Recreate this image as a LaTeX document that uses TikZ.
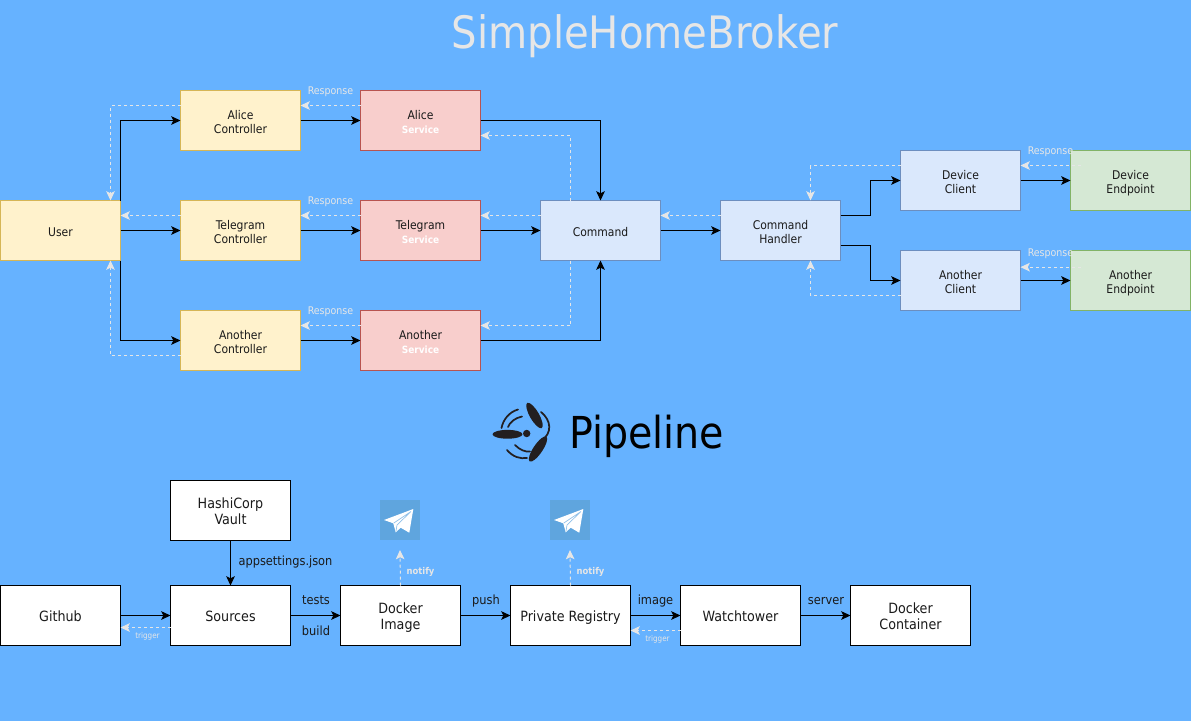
\documentclass[tikz,border=0pt]{standalone}
\usepackage{fontspec}
\setmainfont{DejaVu Sans Condensed}
\usetikzlibrary{arrows.meta,calc}
\definecolor{bgblue}{HTML}{66B2FF}
\definecolor{lightline}{HTML}{E6E6E6}
\definecolor{iconblue}{HTML}{5FA5DE}
\definecolor{logoink}{HTML}{231F20}
\definecolor{inktext}{HTML}{1A1A1A}
\definecolor{yfill}{HTML}{FFF2CC}\definecolor{ydraw}{HTML}{D6B656}
\definecolor{rfill}{HTML}{F8CECC}\definecolor{rdraw}{HTML}{B85450}
\definecolor{bfill}{HTML}{DAE8FC}\definecolor{bdraw}{HTML}{6C8EBF}
\definecolor{gfill}{HTML}{D5E8D4}\definecolor{gdraw}{HTML}{82B366}
\tikzset{
  x=0.75pt,y=-0.75pt,
  basebox/.style={draw,rectangle,line width=0.75pt,minimum width=90pt,minimum height=45pt,inner sep=0pt,outer sep=0pt,anchor=north west,align=center,text=inktext,font=\fontsize{9}{10.5}\selectfont},
  yellowbox/.style={basebox,fill=yfill,draw=ydraw},
  redbox/.style={basebox,fill=rfill,draw=rdraw},
  bluebox/.style={basebox,fill=bfill,draw=bdraw},
  greenbox/.style={basebox,fill=gfill,draw=gdraw},
  whitebox/.style={basebox,fill=white,draw=black,font=\fontsize{10.6}{12}\selectfont},
  flow/.style={draw=black,line width=0.8pt,-{Stealth[length=7pt,width=6.5pt,inset=1.6pt]}},
  back/.style={draw=lightline,line width=0.75pt,dash pattern=on 2.25pt off 2.25pt,-{Stealth[length=7pt,width=6.5pt,inset=1.6pt]}},
  resplabel/.style={text=lightline,inner sep=0pt,font=\fontsize{7.9}{8}\selectfont},
  triglabel/.style={text=lightline,inner sep=0pt,font=\fontsize{6}{6}\selectfont},
  notifylabel/.style={text=lightline,inner sep=0pt,font=\fontsize{7}{8}\selectfont\bfseries},
  edgelabel/.style={text=inktext,inner sep=0pt,font=\fontsize{9.5}{11}\selectfont},
  iconbox/.style={fill=iconblue,minimum width=30pt,minimum height=30pt,inner sep=0pt,outer sep=0pt,anchor=north west},
  blade/.style={fill=logoink,draw=none},
  swirl/.style={draw=logoink,line cap=round,line width=1.3pt},
}
% struts that fix the position of the text block in a box
\newcommand{\ta}{\rule{0pt}{11.5pt}}
\newcommand{\tb}{\rule[-2.5pt]{0pt}{0pt}}
\newcommand{\wa}{\rule{0pt}{12.5pt}}
\newcommand{\wb}{\rule[-3.9pt]{0pt}{0pt}}
\newcommand{\svcline}{\\[0.6pt]{\color{white}\bfseries\fontsize{7.5}{10.5}\selectfont Service}\tb}
\newcommand{\tgplane}[1]{%
  \begin{scope}[shift={(#1.north west)}]
    \fill[white] (33.3,9) -- (29.3,32.7) -- (20.7,27.7) -- (15.7,32.3) -- (13.3,23.3) -- (4,20) -- cycle;
    \draw[iconblue!70!white,line width=0.5pt] (31,11.5) -- (13.8,23) (31,11.5) -- (17,25) -- (16,31);
  \end{scope}}
\begin{document}
\begin{tikzpicture}
\useasboundingbox[fill=bgblue] (0,0) rectangle (1191,721);

\node[inner sep=0pt,text=lightline,font=\fontsize{33.5}{36}\selectfont] (title) at (645,36) {SimpleHomeBroker};

% top row
\node[yellowbox] (user) at (0.5,200.5) {\ta User\tb};
\node[yellowbox] (alicectl) at (180.5,90.5) {\ta Alice\\Controller\tb};
\node[yellowbox] (telctl) at (180.5,200.5) {\ta Telegram\\Controller\tb};
\node[yellowbox] (anoctl) at (180.5,310.5) {\ta Another\\Controller\tb};
\node[redbox] (alicesvc) at (360.5,90.5) {\ta Alice\svcline};
\node[redbox] (telsvc) at (360.5,200.5) {\ta Telegram\svcline};
\node[redbox] (anosvc) at (360.5,310.5) {\ta Another\svcline};
\node[bluebox] (command) at (540.5,200.5) {\ta Command\tb};
\node[bluebox] (handler) at (720.5,200.5) {\ta Command\\Handler\tb};
\node[bluebox] (devcli) at (900.5,150.5) {\ta Device\\Client\tb};
\node[bluebox] (anocli) at (900.5,250.5) {\ta Another\\Client\tb};
\node[greenbox] (devend) at (1070.5,150.5) {\ta Device\\Endpoint\tb};
\node[greenbox] (anoend) at (1070.5,250.5) {\ta Another\\Endpoint\tb};

% top flows
\draw[flow] (user.north east) |- (alicectl.west);
\draw[flow] (user.east) -- (telctl.west);
\draw[flow] (user.south east) |- (anoctl.west);
\draw[flow] (alicectl.east) -- (alicesvc.west);
\draw[flow] (telctl.east) -- (telsvc.west);
\draw[flow] (anoctl.east) -- (anosvc.west);
\draw[flow] (alicesvc.east) -| (command.north);
\draw[flow] (telsvc.east) -- (command.west);
\draw[flow] (anosvc.east) -| (command.south);
\draw[flow] (command.east) -- (handler.west);
\draw[flow] ([yshift=11.25pt]handler.east) -- ++(30,0) |- (devcli.west);
\draw[flow] ([yshift=-11.25pt]handler.east) -- ++(30,0) |- (anocli.west);
\draw[flow] (devcli.east) -- (devend.west);
\draw[flow] (anocli.east) -- (anoend.west);

% top responses
\draw[back] ([yshift=11.25pt]alicectl.west) -| ([xshift=-7.5pt]user.north east);
\draw[back] ([yshift=11.25pt]alicesvc.west) -- ([yshift=11.25pt]alicectl.east);
\draw[back] ([yshift=11.25pt]telsvc.west) -- ([yshift=11.25pt]telctl.east);
\draw[back] ([yshift=11.25pt]telctl.west) -- ([yshift=11.25pt]user.east);
\draw[back] ([yshift=11.25pt]anosvc.west) -- ([yshift=11.25pt]anoctl.east);
\draw[back] ([yshift=-11.25pt]anoctl.west) -| ([xshift=-7.5pt]user.south east);
\draw[back] ([xshift=22.5pt]command.north west) |- ([yshift=-11.25pt]alicesvc.east);
\draw[back] ([yshift=11.25pt]command.west) -- ([yshift=11.25pt]telsvc.east);
\draw[back] ([xshift=22.5pt]command.south west) |- ([yshift=11.25pt]anosvc.east);
\draw[back] ([yshift=11.25pt]handler.west) -- ([yshift=11.25pt]command.east);
\draw[back] ([yshift=11.25pt]devcli.west) -| ([xshift=-22.5pt]handler.north east);
\draw[back] ([yshift=-11.25pt]anocli.west) -| ([xshift=-22.5pt]handler.south east);
\draw[back] ([xshift=7.5pt,yshift=11.25pt]devend.west) -- ([yshift=11.25pt]devcli.east);
\draw[back] ([xshift=7.5pt,yshift=10pt]anoend.west) -- ([yshift=10pt]anocli.east);

\node[resplabel] (resp1) at (330.5,92) {Response};
\node[resplabel] (resp2) at (330.5,202) {Response};
\node[resplabel] (resp3) at (330.5,312) {Response};
\node[resplabel] (resp4) at (1050.5,152) {Response};
\node[resplabel] (resp5) at (1050.5,254) {Response};

% logo
\node[inner sep=0pt,text=black,font=\fontsize{33}{36}\selectfont,anchor=west] (pipeline) at (569,436) {Pipeline};
\fill[logoink] (526.7,433.5) circle[radius=3.7];
\fill[blade] (507.5,434.3) ellipse[x radius=15,y radius=4.4];
\fill[blade,rotate around={-60:(534.5,415.5)}] (534.5,415.5) ellipse[x radius=14.5,y radius=4.6];
\fill[blade,rotate around={56:(538,449)}] (538,449) ellipse[x radius=15,y radius=4.6];
\draw[swirl] (501.5,428) .. controls (503,420) and (509,412) .. (518,409.5);
\draw[swirl] (508,427) .. controls (510,422) and (515,418) .. (522,416.5);
\draw[swirl] (541,412) .. controls (551,420) and (553,433) .. (541,441);
\draw[swirl] (507,450) .. controls (513,457) and (520,459) .. (527,458);
\draw[swirl] (515,445) .. controls (520,450) and (525,452) .. (530,451.5);

% pipeline boxes
\node[whitebox] (vault) at (170.5,480.5) {\wa HashiCorp\\Vault\wb};
\node[whitebox] (github) at (0.5,585.5) {\wa Github\wb};
\node[whitebox] (sources) at (170.5,585.5) {\wa Sources\wb};
\node[whitebox] (dockerimg) at (340.5,585.5) {\wa Docker\\Image\wb};
\node[whitebox] (registry) at (510.5,585.5) {\wa Private Registry\wb};
\node[whitebox] (watch) at (680.5,585.5) {\wa Watchtower\wb};
\node[whitebox] (container) at (850.5,585.5) {\wa Docker\\Container\wb};
\node[iconbox] (tgone) at (380,500) {};
\node[iconbox] (tgtwo) at (550,500) {};
\tgplane{tgone}
\tgplane{tgtwo}

\draw[flow] (vault.south) -- (sources.north);
\draw[flow] (github.east) -- (sources.west);
\draw[flow] (sources.east) -- (dockerimg.west);
\draw[flow] (dockerimg.east) -- (registry.west);
\draw[flow] (registry.east) -- (watch.west);
\draw[flow] (watch.east) -- (container.west);
\draw[back] ([yshift=-9pt]sources.west) -- ([yshift=-9pt]github.east);
\draw[back] ([yshift=-11.25pt]watch.west) -- ([yshift=-11.25pt]registry.east);
\draw[back] (dockerimg.north) -- ([yshift=-7.5pt]tgone.south);
\draw[back] (registry.north) -- ([yshift=-7.5pt]tgtwo.south);

\node[edgelabel] (lblapp) at (285.5,562) {appsettings.json};
\node[edgelabel] (lbltests) at (316,600.5) {tests};
\node[edgelabel] (lblbuild) at (316,631) {build};
\node[edgelabel] (lblpush) at (486,601) {push};
\node[edgelabel] (lblimage) at (655.5,601) {image};
\node[edgelabel] (lblserver) at (826,601) {server};
\node[notifylabel] (lblnotone) at (420.5,572) {notify};
\node[notifylabel] (lblnottwo) at (590.5,572) {notify};
\node[triglabel] (lbltrigone) at (147.5,636) {trigger};
\node[triglabel] (lbltrigtwo) at (657.5,639) {trigger};
\end{tikzpicture}
\end{document}
